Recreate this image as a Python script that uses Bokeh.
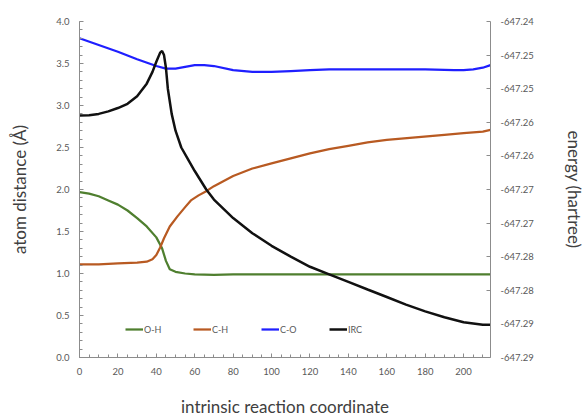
from bokeh.plotting import figure
from bokeh.models import (Range1d, LinearAxis, SingleIntervalTicker, FixedTicker,
                          Legend, LegendItem, NumeralTickFormatter)
from bokeh.embed import file_html
from bokeh.resources import INLINE

# ---- data ----
oh_x = [0, 5, 10, 15, 20, 25, 30, 35, 40, 43, 45, 47, 50, 55, 60, 70, 80, 100, 150, 214]
oh_y = [1.97, 1.95, 1.92, 1.87, 1.82, 1.75, 1.66, 1.56, 1.43, 1.30, 1.15, 1.05, 1.02, 1.00,
        0.99, 0.985, 0.99, 0.99, 0.99, 0.99]

ch_x = [0, 10, 20, 30, 35, 38, 40, 42, 44, 47, 51, 55, 58, 62, 66, 70, 80, 90, 100, 110,
        120, 130, 140, 150, 160, 175, 190, 200, 210, 214]
ch_y = [1.11, 1.11, 1.12, 1.13, 1.14, 1.17, 1.22, 1.31, 1.42, 1.56, 1.68, 1.79, 1.87, 1.93,
        1.98, 2.04, 2.16, 2.25, 2.31, 2.37, 2.43, 2.48, 2.52, 2.56, 2.59, 2.62, 2.65, 2.67,
        2.69, 2.71]

co_x = [0, 10, 20, 30, 40, 45, 50, 55, 60, 65, 70, 80, 90, 100, 110, 120, 130, 140, 160,
        180, 195, 200, 205, 210, 214]
co_y = [3.80, 3.72, 3.64, 3.55, 3.47, 3.44, 3.44, 3.46, 3.48, 3.48, 3.47, 3.42, 3.40, 3.40,
        3.41, 3.42, 3.43, 3.43, 3.43, 3.43, 3.42, 3.42, 3.43, 3.45, 3.48]

irc_x = [0, 5, 10, 15, 20, 25, 30, 35, 38, 40, 42, 43, 44, 45, 46, 48, 50, 53, 56, 60, 66,
         70, 80, 90, 100, 110, 120, 130, 140, 150, 160, 170, 180, 190, 200, 210, 214]
irc_energy = [-647.25400, -647.25394, -647.25375, -647.25338, -647.25288, -647.25225,
              -647.25113, -647.24925, -647.24750, -647.24600, -647.24463, -647.24438,
              -647.24500, -647.24688, -647.25000, -647.25375, -647.25625, -647.25875,
              -647.26025, -647.26225, -647.26500, -647.26650, -647.26925, -647.27150,
              -647.27338, -647.27500, -647.27650, -647.27763, -647.27875, -647.27988,
              -647.28100, -647.28213, -647.28313, -647.28400, -647.28475, -647.28513,
              -647.28513]

energy_ticks = [-647.29, -647.285, -647.28, -647.275, -647.27, -647.265, -647.26,
                -647.255, -647.25, -647.245, -647.24]
energy_tick_labels = ["-647.29", "-647.29", "-647.28", "-647.28", "-647.27", "-647.27",
                      "-647.26", "-647.26", "-647.25", "-647.25", "-647.24"]

series_names = ["O-H", "C-H", "C-O", "IRC"]
series_colors = ["#4F7F2F", "#B85A22", "#1F1FFF", "#111111"]

FONT = "Lato"
AXIS_COLOR = "#8C8C8C"
LABEL_COLOR = "#595959"
TITLE_COLOR = "#404040"

p = figure(width=587, height=419, output_backend="svg", toolbar_location=None,
           x_range=Range1d(0, 214), y_range=Range1d(0, 4),
           min_border_left=79, min_border_right=96, min_border_top=21, min_border_bottom=61)
p.outline_line_color = None
p.xgrid.grid_line_color = None
p.ygrid.grid_line_color = None
p.extra_y_ranges = {"energy": Range1d(-647.29, -647.24)}

r_oh = p.line(oh_x, oh_y, line_color=series_colors[0], line_width=2.25)
r_ch = p.line(ch_x, ch_y, line_color=series_colors[1], line_width=2.25)
r_co = p.line(co_x, co_y, line_color=series_colors[2], line_width=2.25)
r_irc = p.line(irc_x, irc_energy, line_color=series_colors[3], line_width=2.5,
               y_range_name="energy")

def style(ax):
    ax.axis_line_color = AXIS_COLOR
    ax.major_tick_line_color = AXIS_COLOR
    ax.minor_tick_line_color = AXIS_COLOR
    ax.major_tick_in = 4
    ax.major_tick_out = 0
    ax.minor_tick_in = 3
    ax.minor_tick_out = 0
    ax.major_label_text_font = FONT
    ax.major_label_text_font_size = "9.5px"
    ax.major_label_text_color = LABEL_COLOR
    ax.axis_label_text_font = FONT
    ax.axis_label_text_font_size = "17px"
    ax.axis_label_text_font_style = "normal"
    ax.axis_label_text_color = TITLE_COLOR

xa = p.xaxis[0]
style(xa)
xa.ticker = SingleIntervalTicker(interval=20, num_minor_ticks=4)
xa.major_label_standoff = 10
xa.axis_label = "intrinsic reaction coordinate"
xa.axis_label_standoff = 18

ya = p.yaxis[0]
style(ya)
ya.ticker = SingleIntervalTicker(interval=0.5, num_minor_ticks=5)
ya.formatter = NumeralTickFormatter(format="0.0")
ya.major_label_standoff = 10
ya.axis_label = "atom distance (Å)"
ya.axis_label_standoff = 23

ra = LinearAxis(y_range_name="energy", ticker=FixedTicker(ticks=energy_ticks, minor_ticks=[]),
                major_label_overrides=dict(zip(energy_ticks, energy_tick_labels)))
style(ra)
ra.major_label_standoff = 10
ra.axis_label = "energy (hartree)"
ra.axis_label_standoff = 27
p.add_layout(ra, "right")

legend = Legend(items=[LegendItem(label=n, renderers=[r]) for n, r in
                       zip(series_names, [r_oh, r_ch, r_co, r_irc])],
                orientation="horizontal", location=(46, 18),
                glyph_width=18, glyph_height=20, label_standoff=1, label_width=48,
                spacing=1, padding=0, margin=0, border_line_color=None,
                background_fill_alpha=0, label_text_font=FONT,
                label_text_font_size="9px", label_text_color=LABEL_COLOR)
p.add_layout(legend, "center")

open("out.html", "w").write(file_html(p, INLINE))
